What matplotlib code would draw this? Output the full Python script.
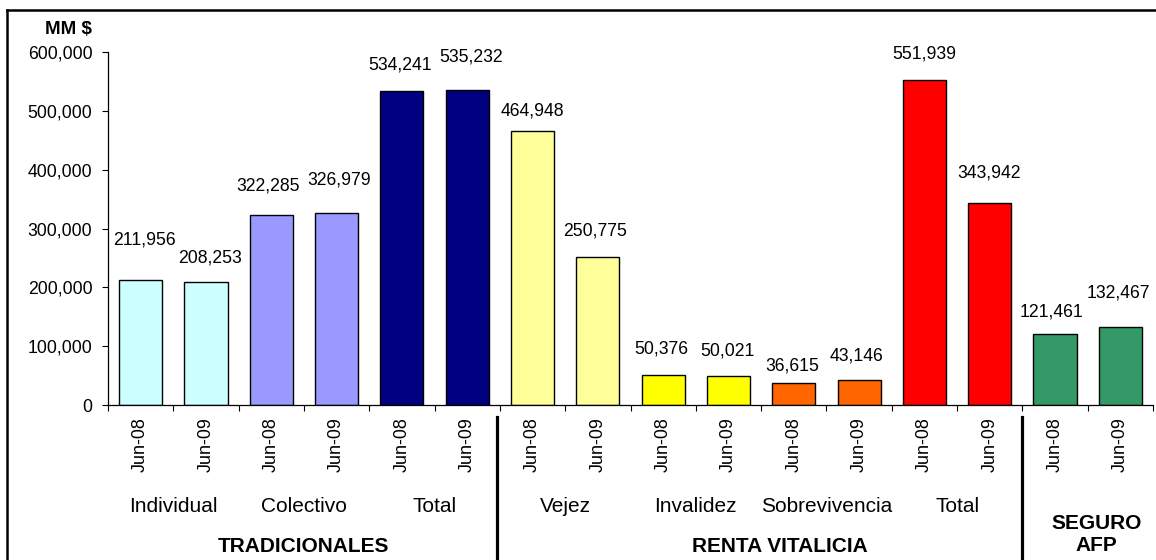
import matplotlib
matplotlib.use("Agg")
import matplotlib.pyplot as plt
from matplotlib.ticker import FuncFormatter, FixedLocator
from matplotlib.lines import Line2D
from matplotlib.transforms import blended_transform_factory

plt.rcParams['font.family'] = ['Liberation Sans', 'DejaVu Sans']

# datos (MM $)
periodos = ['Jun-08', 'Jun-09'] * 8
valores = [211956, 208253, 322285, 326979, 534241, 535232,
           464948, 250775, 50376, 50021, 36615, 43146, 551939, 343942,
           121461, 132467]
colores_pares = ['#CCFFFF', '#9999FF', '#000080', '#FFFF99',
                 '#FFFF00', '#FF6600', '#FF0000', '#339966']
subgrupos = ['Individual', 'Colectivo', 'Total', 'Vejez', 'Invalidez',
             'Sobrevivencia', 'Total']
grupos = ['TRADICIONALES', 'RENTA VITALICIA', 'SEGURO\nAFP']

# ajuste manual de las etiquetas (px sobre la barra, px a la derecha)
sep_y = [40, 24, 29, 33, 26, 33, 20, 26, 26, 25, 17, 24, 26, 30, 22, 34]
sep_x = [4, 4, -3, 2, -2, 4, 0, -3, -2, -1, -2, -3, 0, -1, -4, -2]

W, H = 1156, 560
fig = plt.figure(figsize=(W / 100, H / 100), dpi=100)
ax = fig.add_axes([108 / W, (H - 405) / H, (1153 - 108) / W, (405 - 52) / H])

x = list(range(len(valores)))
colores = [c for c in colores_pares for _ in range(2)]
ax.bar(x, valores, width=0.66, color=colores, edgecolor='black', linewidth=1.0)

for i, v in enumerate(valores):
    ax.annotate(f"{v:,}", (i, v), xytext=(sep_x[i] * 0.72, sep_y[i] * 0.72),
                textcoords='offset points', ha='center', va='center',
                fontsize=12.7, annotation_clip=False)

ax.set_xlim(-0.5, len(valores) - 0.5)
ax.set_ylim(0, 600000)
ax.set_yticks(range(0, 600001, 100000))
ax.yaxis.set_major_formatter(FuncFormatter(lambda v, p: f"{int(v):,}"))
ax.tick_params(axis='y', direction='out', length=4.3, width=0.8, pad=7, labelsize=12.7)

ax.xaxis.set_major_locator(FixedLocator([i - 0.5 for i in range(len(valores) + 1)]))
ax.xaxis.set_major_formatter(FuncFormatter(lambda v, p: ''))
ax.set_xticks(x, minor=True)
ax.set_xticklabels(periodos, minor=True, rotation=90, fontsize=12.9)
ax.tick_params(axis='x', which='major', direction='out', length=4.3, width=0.8)
ax.tick_params(axis='x', which='minor', length=0, pad=8.6)

for s in ['top', 'right']:
    ax.spines[s].set_visible(False)
for s in ['left', 'bottom']:
    ax.spines[s].set_linewidth(0.9)

trans = blended_transform_factory(ax.transData, fig.transFigure)
for k, nombre in enumerate(subgrupos):
    ax.text(2 * k + 0.5, (H - 506) / H, nombre, transform=trans,
            ha='center', va='center', fontsize=15)

pos_grupos = [2.5, 9.78, 14.63]
alto_grupos = [547, 547, 534.5]
for nombre, px, py in zip(grupos, pos_grupos, alto_grupos):
    ax.text(px, (H - py) / H, nombre, transform=trans, ha='center',
            va='center', fontsize=15, fontweight='bold', linespacing=1.25)

# lineas separadoras
for px in [5.45, 13.5]:
    ax.add_line(Line2D([px, px], [(H - 417) / H, 0], transform=trans,
                       color='black', linewidth=2.3, clip_on=False))

fig.text(92 / W, (H - 30) / H, 'MM $', ha='right', va='center',
         fontsize=13.5, fontweight='bold')

# marco del grafico
fig.add_artist(Line2D([7 / W, 1], [(H - 10) / H, (H - 10) / H],
                      transform=fig.transFigure, color='black', linewidth=1.8))
fig.add_artist(Line2D([7 / W, 7 / W], [(H - 10) / H, 0],
                      transform=fig.transFigure, color='black', linewidth=1.8))

fig.savefig('out.png', dpi=100)
